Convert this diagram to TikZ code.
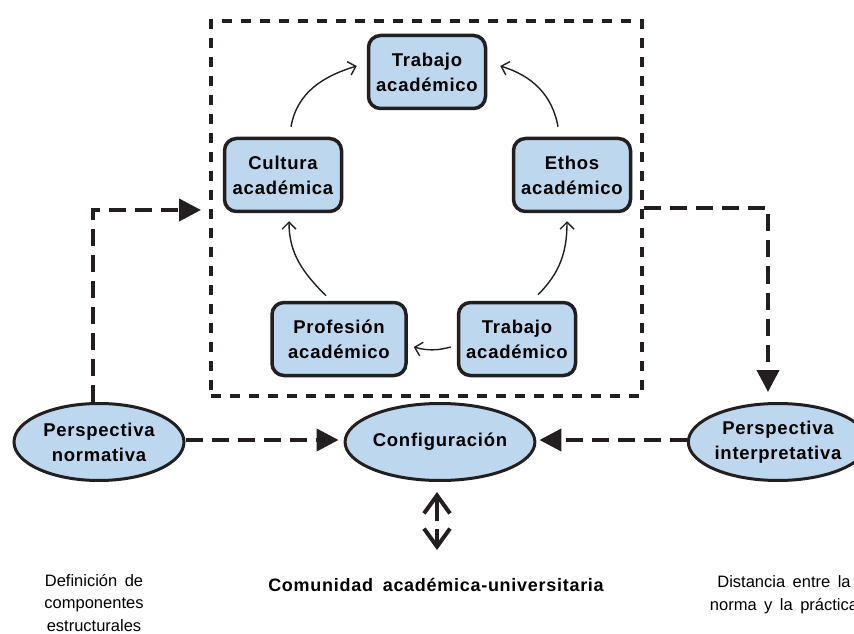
\documentclass[tikz,border=0pt]{standalone}
\usepackage{fontspec}
\setmainfont{Liberation Sans}
\newfontfamily\spc[LetterSpace=4]{Liberation Sans}
\usetikzlibrary{arrows.meta,shapes.geometric}
\definecolor{boxblue}{RGB}{189,215,238}
\definecolor{ink}{RGB}{35,31,32}
\newcommand\widesp{\spaceskip=7.5pt plus 1pt\relax}
\begin{document}
\begin{tikzpicture}[x=1pt,y=1pt,
  box/.style={draw=ink, fill=boxblue, line width=3.5pt, rounded corners=12pt,
    minimum width=117pt, minimum height=73pt, align=center, inner sep=0pt,
    font=\spc\bfseries\fontsize{18.5}{25}\selectfont},
  oval/.style={draw=ink, fill=boxblue, ellipse, line width=3pt,
    minimum width=170pt, minimum height=77pt, inner sep=0pt, align=center,
    font=\spc\bfseries\fontsize{18.5}{25}\selectfont},
  frame/.style={draw=ink, line width=4pt, dash pattern=on 10pt off 9pt},
  link/.style={draw=ink, line width=4pt, dash pattern=on 17pt off 9pt,
    -{Triangle[length=22pt,width=22pt]}},
  thinarrow/.style={draw=ink, line width=1.4pt, -{Straight Barb[length=7pt,width=14pt]}},
  dbl/.style={draw=ink, line width=4pt, -{Straight Barb[length=18pt,width=26pt]}},
  note/.style={align=center, inner sep=0pt,
    font=\fontsize{16.5}{22.5}\selectfont\widesp}
]
\useasboundingbox (0,0) rectangle (854,633);

% dashed frame
\node[frame, minimum width=431pt, minimum height=375pt, inner sep=0pt] (frame) at (426.5,424.5) {};

% boxes
\node[box] (trabT) at (427,561) {Trabajo\\académico};
\node[box] (cult)  at (283,458) {Cultura\\académica};
\node[box] (ethos) at (572,458) {Ethos\\académico};
\node[box, minimum width=134pt] (prof) at (339,294) {Profesión\\académico};
\node[box] (trabB) at (517,294) {Trabajo\\académico};

% ellipses
\node[oval] (norm)   at (99,191)  {Perspectiva\\normativa};
\node[oval] (conf)   at (440,191) {Configuración};
\node[oval] (interp) at (778,191) {Perspectiva\\interpretativa};

% texts
\node[anchor=base, inner sep=0pt, font=\spc\bfseries\fontsize{18}{22}\selectfont] (comm) at (436,42)
  {Comunidad\hspace{4pt} académica-universitaria};
\node[note, anchor=base] (defn) at (94,2) {Definición de\\componentes\\estructurales};
\node[note, anchor=base] (dist) at (784,23) {Distancia entre la\\norma y la práctica};

% thin cycle arrows
\draw[thinarrow] ([shift={(8pt,10pt)}]cult.north) to[out=80,in=197] ([shift={(-10pt,6pt)}]trabT.west);
\draw[thinarrow] ([shift={(-14pt,10pt)}]ethos.north) to[out=100,in=-17] ([shift={(13pt,6pt)}]trabT.east);
\draw[thinarrow] ([shift={(-13pt,5pt)}]prof.north) to[out=135,in=-90] ([shift={(6pt,-8pt)}]cult.south);
\draw[thinarrow] ([shift={(21pt,6pt)}]trabB.north) to[out=45,in=-90] ([shift={(-5pt,-8pt)}]ethos.south);
\draw[thinarrow] ([shift={(-6pt,-8pt)}]trabB.west) to[out=195,in=-15] ([shift={(6pt,-8pt)}]prof.east);

% thick dashed connectors
\draw[link] ([xshift=-6pt]norm.north) |- ([xshift=-8pt,yshift=-1.5pt]frame.west);
\draw[link] (frame.east) -| ([xshift=-10pt,yshift=10pt]interp.north);
\draw[link] ([yshift=2pt]norm.east) -- ([xshift=-5pt,yshift=2pt]conf.west);
\draw[link] ([yshift=2pt]interp.west) -- ([xshift=3pt,yshift=2pt]conf.east);

% double arrow
\draw[dbl] ([xshift=-3pt,yshift=-39pt]conf.south) -- ([xshift=-3pt,yshift=-10pt]conf.south);
\draw[dbl] ([xshift=-3pt,yshift=-47pt]conf.south) -- ([xshift=-3pt,yshift=-68pt]conf.south);
\end{tikzpicture}
\end{document}
